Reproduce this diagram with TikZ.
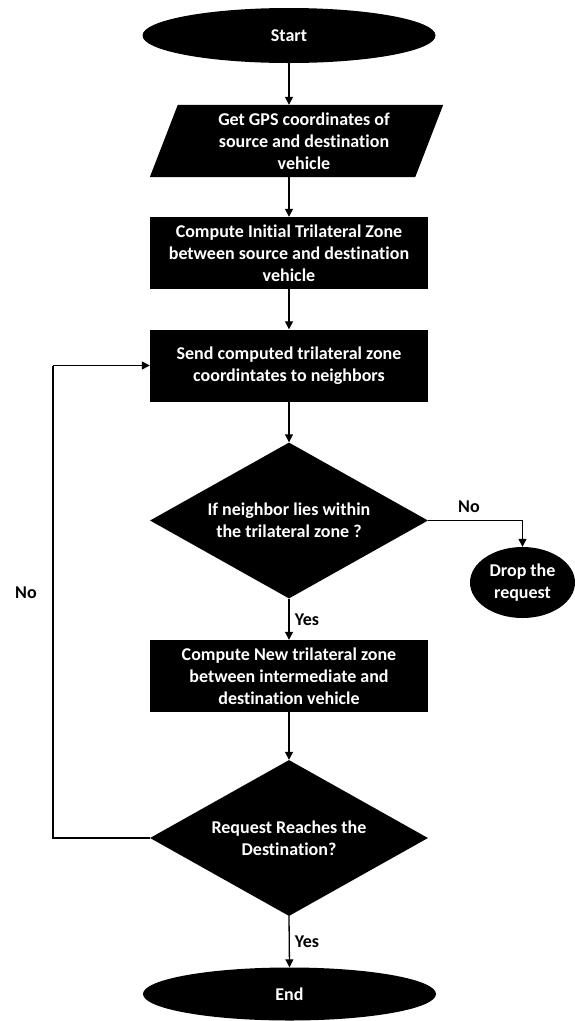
\documentclass[tikz,border=0pt]{standalone}
\usepackage{fontspec}
\setmainfont{Carlito}[Ligatures=NoCommon]
\usetikzlibrary{shapes.geometric,arrows.meta,calc}
\begin{document}
\begin{tikzpicture}[x=1pt,y=-1pt,
  txt/.style={font=\fontsize{18}{22}\selectfont\bfseries, align=center},
  blk/.style={txt, fill=black, text=white, inner sep=0pt},
  procbox/.style={blk, rectangle, minimum width=278, minimum height=72},
  term/.style={blk, ellipse, minimum width=293, minimum height=55},
  decide/.style={blk, diamond, shape aspect=1.8, minimum width=278, minimum height=156},
  lbl/.style={txt, text=black, inner sep=0pt},
  arr/.style={line width=1.3pt, -{Triangle[length=8pt,width=8pt]}},
  ln/.style={line width=1.3pt}]
\useasboundingbox (0,0) rectangle (575,1021);

% nodes
\node[term] (start) at (289,35.5) {Start};
\node[txt, minimum width=293, minimum height=72, inner sep=0pt] (gps) at (296.5,141) {};
\fill[black] (gps.south west) -- ($(gps.south east)+(-28,0)$) -- (gps.north east) -- ($(gps.north west)+(28,0)$) -- cycle;
\node[txt, text=white, inner sep=0pt] (gpstext) at (304,141) {Get GPS coordinates of\\source and destination\\vehicle};
\node[procbox] (init) at (289,253) {Compute Initial Trilateral Zone\\between source and destination\\vehicle};
\node[procbox] (send) at (289,365.5) {Send computed trilateral zone\\coordintates to neighbors};
\node[decide] (d1) at (289,520.5) {If neighbor lies within\\the trilateral zone ?};
\node[blk, ellipse, minimum width=105, minimum height=71] (drop) at (522.5,582.5) {Drop the\\request};
\node[procbox] (new) at (289,676) {Compute New trilateral zone\\between intermediate and\\destination vehicle};
\node[decide] (d2) at (289,838) {Request Reaches the\\Destination?};
\node[term, minimum width=293, minimum height=53] (end) at (289.5,994) {End};

\coordinate (loopb) at (53,838);
\coordinate (loopt) at (53,365.5);

% labels
\node[lbl] (no1) at (469,507) {No};
\node[lbl] (no2) at (26,593) {No};
\node[lbl] (yes1) at (307,620) {Yes};
\node[lbl] (yes2) at (307,942) {Yes};

% connectors
\draw[arr] (start.south) -- (start.south |- gps.north);
\draw[arr] (init.north |- gps.south) -- (init.north);
\draw[arr] (init.south) -- (send.north);
\draw[arr] (send.south) -- (d1.north);
\draw[arr] (d1.east) -| (drop.north);
\draw[arr] (d1.south) -- (new.north);
\draw[arr] (new.south) -- (d2.north);
\draw[arr] (d2.south) -- (end.north);
\draw[ln] (d2.west) -- (loopb) -- (loopt);
\draw[arr] (loopt) -- (send.west);
\end{tikzpicture}
\end{document}
